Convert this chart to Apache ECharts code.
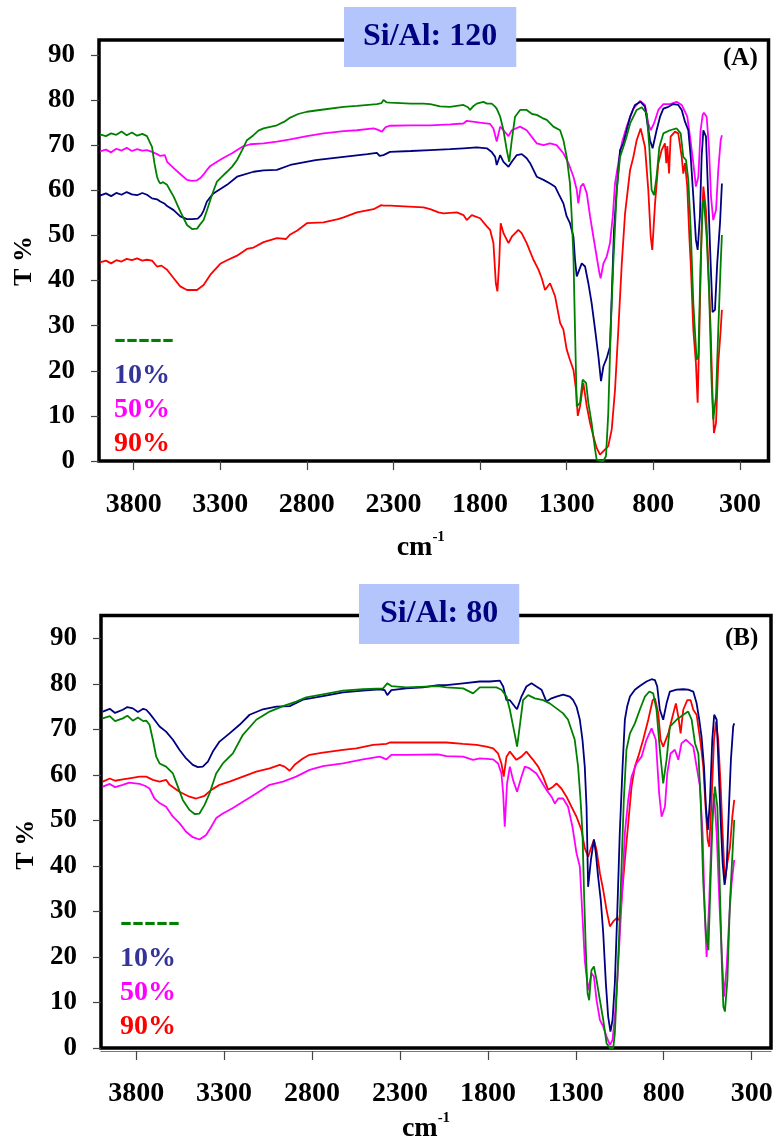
<!DOCTYPE html>
<html>
<head>
<meta charset="utf-8">
<script src="https://cdn.jsdelivr.net/npm/echarts@6/dist/echarts.min.js"></script>
<style>
html,body{margin:0;padding:0;background:#fff;}
#chart{width:774px;height:1140px;}
</style>
</head>
<body>
<div id="chart"></div>
<script>
// ---------- data (wavenumber cm-1, T %) ----------
const xTickValues = [300, 800, 1300, 1800, 2300, 2800, 3300, 3800];
const yTickValues = [0, 10, 20, 30, 40, 50, 60, 70, 80, 90];
const seriesNames = ['-----', '10%', '50%', '90%'];
const panelTitles = ['Si/Al: 120', 'Si/Al: 80'];
const panelTags = ['(A)', '(B)'];

// Panel A (Si/Al 120)
const A_parent = [[3995,72.4],[3960,72.0],[3930,72.6],[3900,72.3],[3870,73.0],[3840,72.2],[3810,72.8],[3780,72.1],[3750,72.5],[3723,72.0],[3705,70.5],[3694,69.6],[3680,66.0],[3665,63.0],[3655,62.0],[3646,61.5],[3630,61.8],[3607,61.2],[3590,60.0],[3569,58.6],[3531,55.3],[3492,52.3],[3463,51.4],[3434,51.5],[3415,52.5],[3396,53.4],[3377,55.5],[3357,57.9],[3338,60.0],[3319,61.9],[3290,63.0],[3261,64.1],[3230,65.3],[3203,66.7],[3175,68.8],[3146,71.1],[3108,72.2],[3080,73.2],[3050,73.7],[2973,74.4],[2930,75.2],[2896,76.1],[2850,76.9],[2800,77.4],[2704,77.9],[2588,78.5],[2511,78.7],[2396,79.1],[2370,79.3],[2358,80.0],[2340,79.5],[2319,79.4],[2200,79.2],[2127,79.2],[2088,79.1],[2031,78.6],[1973,78.5],[1915,78.8],[1896,78.9],[1870,78.4],[1858,77.8],[1840,78.6],[1819,79.2],[1781,79.6],[1760,79.2],[1733,79.2],[1715,78.6],[1704,78.1],[1684,76.3],[1665,73.3],[1646,68.9],[1632,66.3],[1617,71.1],[1598,76.3],[1569,77.8],[1531,77.8],[1500,76.9],[1473,76.7],[1440,76.0],[1415,75.6],[1377,74.1],[1338,73.3],[1319,71.1],[1300,67.4],[1281,61.5],[1271,54.2],[1261,45.3],[1252,29.1],[1242,12.1],[1233,11.8],[1223,12.9],[1208,18.0],[1200,18.2],[1188,17.3],[1175,12.9],[1156,8.4],[1136,2.5],[1127,0.3],[1100,0],[1088,0],[1073,1.1],[1060,10.6],[1046,29.1],[1031,43.8],[1011,60.1],[992,67.4],[973,69.6],[954,71.9],[934,74.8],[896,77.8],[867,78.4],[838,77.0],[823,69.6],[810,60.1],[796,58.9],[781,63.0],[765,69.6],[742,72.6],[704,73.3],[665,73.7],[642,72.6],[627,67.4],[611,66.7],[598,62.3],[584,51.2],[569,35.0],[550,22.4],[540,23.2],[527,43.8],[515,57.1],[508,57.9],[492,49.7],[477,36.5],[464,18.0],[454,9.2],[438,14.3],[425,29.1],[411,43.8],[404,50.1]];
const A_10 = [[3995,58.8],[3960,59.3],[3930,58.7],[3900,59.4],[3870,59.0],[3840,59.6],[3810,59.1],[3780,58.9],[3750,59.4],[3723,59.0],[3694,58.2],[3665,58.0],[3646,57.5],[3620,57.0],[3607,56.5],[3569,55.6],[3531,54.2],[3492,53.6],[3463,53.6],[3430,53.7],[3410,54.5],[3396,55.5],[3377,57.5],[3340,59.3],[3290,60.5],[3261,61.2],[3203,63.0],[3108,64.1],[3050,64.4],[2973,64.5],[2896,65.6],[2750,66.7],[2588,67.4],[2450,68.0],[2396,68.3],[2380,67.6],[2358,67.8],[2320,68.5],[2200,68.7],[2088,68.9],[1973,69.1],[1896,69.3],[1819,69.5],[1761,69.3],[1733,68.5],[1713,67.4],[1704,65.6],[1684,67.8],[1665,66.3],[1636,65.2],[1617,66.3],[1588,67.8],[1559,68.0],[1531,67.1],[1511,66.0],[1473,63.0],[1434,62.3],[1396,61.5],[1367,60.8],[1348,59.3],[1319,57.1],[1300,54.2],[1281,52.7],[1261,49.7],[1252,44.6],[1242,40.9],[1233,40.5],[1213,43.8],[1208,44.2],[1194,43.1],[1175,39.4],[1156,35.0],[1136,29.1],[1117,23.2],[1102,17.7],[1088,21.0],[1069,22.8],[1050,25.4],[1040,36.5],[1027,51.2],[1011,60.1],[992,68.9],[973,70.4],[954,73.3],[934,76.3],[906,78.9],[873,79.6],[848,78.5],[834,74.8],[819,71.1],[804,69.3],[781,73.3],[761,76.3],[742,78.1],[713,78.5],[684,79.1],[656,78.9],[636,77.8],[617,75.2],[598,73.3],[584,67.4],[569,58.6],[554,49.0],[544,46.8],[531,54.2],[521,67.4],[511,73.3],[496,71.9],[483,58.6],[469,43.8],[458,33.0],[444,33.5],[431,43.8],[415,52.7],[404,61.5]];
const A_50 = [[3995,68.6],[3960,69.0],[3930,68.4],[3900,69.2],[3870,68.8],[3840,69.4],[3810,68.7],[3780,69.1],[3750,68.8],[3723,68.9],[3694,68.5],[3665,68.0],[3646,67.6],[3620,67.8],[3607,66.3],[3569,64.9],[3531,63.6],[3492,62.3],[3463,62.1],[3434,62.2],[3415,62.7],[3396,63.5],[3377,64.5],[3357,65.4],[3319,66.3],[3280,67.2],[3232,68.2],[3175,69.6],[3127,70.2],[3050,70.4],[2973,70.8],[2896,71.3],[2800,72.0],[2704,72.6],[2588,73.1],[2511,73.3],[2415,73.7],[2396,73.5],[2367,73.0],[2345,74.0],[2319,74.3],[2200,74.4],[2088,74.4],[1973,74.6],[1896,74.8],[1877,75.4],[1800,75.0],[1742,74.7],[1723,73.7],[1704,70.8],[1684,74.1],[1665,73.3],[1636,72.0],[1617,73.3],[1569,74.1],[1531,73.3],[1473,70.4],[1434,70.0],[1396,70.4],[1358,70.0],[1319,68.2],[1290,66.0],[1261,63.0],[1242,60.1],[1233,57.1],[1219,60.8],[1204,61.5],[1184,59.3],[1165,54.2],[1146,49.7],[1127,45.3],[1111,41.6],[1104,40.5],[1088,43.8],[1069,45.3],[1050,48.3],[1034,54.2],[1021,61.5],[1002,66.0],[982,70.4],[954,74.1],[915,78.1],[877,79.8],[848,78.9],[829,74.8],[815,73.3],[796,74.8],[771,77.8],[742,79.1],[704,79.1],[665,79.6],[636,78.9],[617,77.4],[604,76.3],[588,71.9],[569,66.0],[554,60.8],[540,63.0],[527,73.3],[515,76.7],[508,77.2],[492,76.3],[479,69.6],[467,58.6],[454,53.4],[438,55.6],[425,64.5],[411,71.1],[404,72.2]];
const A_90 = [[3995,44.0],[3960,44.4],[3930,43.8],[3900,44.5],[3870,44.2],[3840,44.8],[3810,44.5],[3780,44.9],[3750,44.4],[3723,44.6],[3694,44.4],[3665,43.1],[3640,43.3],[3607,42.4],[3569,40.5],[3531,38.7],[3492,37.9],[3463,37.9],[3434,37.9],[3396,39.0],[3357,41.3],[3300,43.7],[3261,44.5],[3203,45.5],[3146,47.0],[3108,47.3],[3050,48.5],[2973,49.4],[2920,49.2],[2896,50.2],[2855,51.1],[2800,52.7],[2704,52.9],[2620,53.6],[2588,54.0],[2511,55.1],[2415,55.8],[2370,56.7],[2358,56.6],[2319,56.6],[2127,56.2],[2088,55.8],[2040,55.1],[2011,54.9],[1934,55.1],[1896,54.5],[1877,53.4],[1848,54.5],[1800,53.8],[1761,52.0],[1742,51.2],[1723,48.3],[1709,39.4],[1700,37.6],[1690,43.8],[1681,52.7],[1665,50.5],[1636,48.3],[1617,49.7],[1579,51.2],[1560,50.5],[1531,48.3],[1492,44.6],[1463,42.4],[1444,40.5],[1425,37.9],[1396,39.4],[1367,36.5],[1338,30.6],[1319,29.1],[1300,24.7],[1281,22.4],[1261,20.2],[1246,15.8],[1236,10.0],[1223,12.1],[1204,17.3],[1184,12.1],[1165,8.4],[1146,5.5],[1127,2.9],[1108,1.4],[1088,2.2],[1060,3.3],[1040,7.0],[1021,15.8],[1002,29.1],[982,43.8],[963,54.9],[934,64.5],[915,67.4],[896,71.1],[873,73.7],[848,69.6],[829,60.1],[815,49.7],[806,46.8],[790,57.1],[771,66.0],[752,68.9],[733,70.4],[725,66.0],[719,69.8],[709,63.7],[700,71.9],[675,73.0],[656,72.6],[636,67.4],[627,63.7],[617,66.0],[604,60.8],[592,49.7],[584,43.8],[569,29.1],[554,21.7],[544,12.9],[534,29.1],[521,51.2],[511,60.8],[496,55.6],[483,43.8],[469,29.1],[458,14.3],[450,6.2],[438,8.4],[425,21.7],[411,29.1],[404,33.5]];

// Panel B (Si/Al 80)
const B_parent = [[3990,72.4],[3950,72.9],[3920,71.8],[3876,72.4],[3850,73.0],[3819,71.9],[3790,72.6],[3760,71.8],[3743,71.9],[3724,71.0],[3705,67.7],[3686,64.0],[3667,62.5],[3630,61.8],[3591,60.3],[3563,57.4],[3535,54.5],[3497,52.3],[3468,51.4],[3440,51.5],[3411,53.4],[3383,55.9],[3345,60.3],[3307,62.5],[3250,64.7],[3193,68.8],[3117,72.1],[3041,73.9],[2965,75.1],[2890,76.1],[2833,77.0],[2738,77.7],[2624,78.5],[2510,78.8],[2396,79.0],[2372,80.1],[2349,79.5],[2264,79.2],[2083,79.5],[2036,79.2],[1941,79.0],[1884,77.9],[1846,79.2],[1751,79.2],[1723,78.7],[1694,77.2],[1675,74.3],[1656,70.6],[1641,67.7],[1634,66.2],[1619,70.6],[1600,76.4],[1571,77.5],[1533,76.8],[1486,76.4],[1448,75.7],[1410,74.6],[1372,73.5],[1344,72.1],[1325,69.9],[1306,67.7],[1287,61.8],[1273,54.5],[1262,47.2],[1252,32.5],[1243,21.5],[1233,12.0],[1224,10.5],[1211,17.1],[1197,17.9],[1182,14.9],[1163,10.5],[1144,6.2],[1125,1.0],[1106,0],[1087,0],[1078,3.2],[1065,14.2],[1053,25.2],[1040,39.8],[1027,54.5],[1012,65.5],[992,69.1],[964,71.3],[936,74.3],[907,77.2],[882,78.3],[860,77.9],[841,74.3],[822,65.5],[803,58.1],[784,63.3],[765,70.6],[727,72.1],[689,73.2],[661,73.9],[641,72.1],[622,66.9],[603,64.7],[590,54.5],[575,36.2],[560,25.2],[546,21.5],[537,32.5],[522,50.8],[509,57.4],[495,53.0],[484,39.8],[469,17.9],[461,9.1],[452,8.0],[438,14.9],[423,32.5],[408,43.5],[399,50.1]];
const B_10 = [[3990,73.9],[3950,74.5],[3920,73.6],[3876,74.3],[3850,74.9],[3819,74.6],[3790,73.8],[3760,74.5],[3743,74.3],[3724,73.5],[3696,72.1],[3667,70.6],[3630,69.5],[3591,67.7],[3554,65.5],[3516,63.6],[3478,62.2],[3449,61.7],[3421,61.8],[3392,62.9],[3364,65.1],[3326,67.3],[3269,69.1],[3212,71.0],[3155,73.2],[3079,74.4],[3003,75.0],[2927,75.1],[2852,76.5],[2738,77.3],[2624,78.1],[2510,78.5],[2415,78.8],[2387,78.6],[2372,77.5],[2349,78.6],[2264,79.0],[2169,79.2],[2083,79.7],[2036,79.7],[1941,80.1],[1846,80.5],[1789,80.5],[1732,80.7],[1713,79.4],[1694,76.4],[1675,76.4],[1647,75.0],[1634,74.4],[1609,77.2],[1581,79.4],[1552,80.1],[1524,79.4],[1495,78.7],[1467,76.1],[1438,76.8],[1410,77.2],[1372,77.6],[1334,77.2],[1315,76.4],[1296,75.0],[1277,72.1],[1262,67.7],[1249,61.8],[1239,53.0],[1230,35.4],[1224,35.1],[1214,41.3],[1197,45.8],[1186,42.8],[1173,37.6],[1158,32.5],[1144,25.2],[1129,14.2],[1116,6.9],[1103,3.6],[1091,6.2],[1078,14.2],[1065,28.8],[1050,47.2],[1034,61.8],[1021,72.1],[1008,75.0],[992,77.2],[964,78.7],[936,79.5],[898,80.5],[869,81.0],[850,80.8],[837,79.4],[822,74.3],[803,72.1],[784,75.7],[765,78.3],[727,78.7],[689,78.8],[661,78.7],[632,78.3],[613,75.7],[598,72.1],[585,68.4],[571,61.8],[560,53.0],[549,47.9],[537,54.5],[524,67.7],[513,73.2],[499,72.1],[488,61.8],[477,50.8],[465,40.6],[454,35.8],[442,39.8],[429,53.0],[418,63.3],[405,70.6],[399,71.3]];
const B_50 = [[3990,57.4],[3950,58.0],[3920,57.3],[3876,57.8],[3840,58.3],[3781,58.0],[3750,57.6],[3724,57.0],[3696,54.8],[3667,53.8],[3630,53.0],[3591,50.8],[3554,49.4],[3516,47.5],[3478,46.3],[3440,45.8],[3402,46.8],[3373,48.6],[3345,50.5],[3307,51.5],[3250,52.7],[3193,54.1],[3117,55.9],[3041,57.8],[2965,58.5],[2890,59.6],[2814,61.1],[2738,61.9],[2624,62.5],[2510,63.4],[2415,64.0],[2377,63.4],[2349,64.4],[2264,64.4],[2083,64.5],[2036,64.1],[1941,64.0],[1884,63.3],[1846,63.6],[1770,63.4],[1742,62.5],[1723,60.3],[1713,55.9],[1704,48.6],[1691,58.1],[1675,61.8],[1657,58.9],[1634,56.3],[1609,59.6],[1590,61.8],[1562,61.4],[1524,60.3],[1495,58.5],[1467,56.7],[1438,55.2],[1419,53.7],[1400,54.8],[1372,54.8],[1344,53.0],[1319,48.6],[1296,42.8],[1277,39.8],[1262,28.9],[1249,19.3],[1230,12.7],[1211,16.4],[1197,15.7],[1182,10.5],[1163,6.2],[1144,4.7],[1125,2.5],[1106,0.7],[1091,1.8],[1078,6.9],[1065,14.2],[1049,25.2],[1034,36.2],[1021,47.2],[1002,54.5],[983,59.6],[955,62.5],[926,64.0],[898,67.7],[869,70.2],[845,67.7],[826,55.9],[812,50.8],[793,53.0],[780,60.3],[761,64.7],[737,65.5],[717,63.3],[699,66.9],[674,67.7],[651,66.9],[632,66.2],[613,61.8],[594,57.4],[579,47.2],[566,28.9],[556,20.0],[541,32.5],[528,47.2],[514,55.9],[499,47.2],[484,32.5],[471,21.5],[457,11.3],[442,17.9],[427,28.9],[414,36.2],[399,41.3]];
const B_90 = [[3990,58.5],[3950,59.2],[3920,58.7],[3876,59.0],[3830,59.3],[3781,59.6],[3743,59.6],[3705,58.9],[3667,58.5],[3630,58.9],[3610,57.8],[3554,56.3],[3497,55.2],[3459,54.8],[3411,55.4],[3373,56.7],[3326,57.8],[3269,58.5],[3193,59.6],[3117,60.7],[3041,61.4],[2984,62.2],[2956,61.8],[2927,60.9],[2899,62.2],[2852,63.6],[2814,64.4],[2738,64.9],[2624,65.5],[2548,65.8],[2453,66.6],[2377,66.8],[2358,67.1],[2264,67.1],[2083,67.1],[2036,67.1],[1941,66.8],[1865,66.6],[1808,66.2],[1770,65.8],[1742,64.7],[1723,62.5],[1710,59.6],[1694,64.0],[1675,65.1],[1638,63.3],[1609,64.0],[1581,65.1],[1543,63.3],[1514,61.8],[1486,59.6],[1457,56.7],[1429,57.4],[1410,58.1],[1382,57.0],[1353,55.2],[1325,53.0],[1296,50.8],[1268,47.9],[1249,43.9],[1230,42.0],[1211,44.2],[1197,45.7],[1182,43.5],[1163,38.4],[1144,34.7],[1125,30.3],[1106,26.7],[1087,27.8],[1068,28.5],[1053,28.1],[1040,32.5],[1021,41.3],[1002,49.3],[983,57.4],[964,61.8],[945,64.0],[917,67.7],[888,72.1],[863,76.4],[850,76.8],[831,73.5],[818,67.7],[803,66.2],[774,69.1],[750,72.8],[731,75.7],[717,72.8],[704,69.1],[689,74.3],[666,76.4],[647,76.4],[632,74.3],[613,73.2],[590,66.9],[575,61.8],[562,53.0],[550,45.7],[541,44.2],[528,54.5],[514,67.7],[503,71.7],[490,67.7],[477,58.1],[465,47.2],[452,36.2],[442,39.8],[423,44.2],[410,50.8],[399,54.5]];

// ---------- styling ----------
const FONT = 'Liberation Serif';
const colors = {'-----': '#008000', '10%': '#000080', '50%': '#ff00ff', '90%': '#ff0000'};
const legendColors = {'-----': '#008000', '10%': '#333399', '50%': '#ff00ff', '90%': '#ff0000'};

const panels = [
  {grid: {left: 99, top: 40, width: 669.5, height: 421}, xmin: 135, ymax: 93.3,
   data: {'-----': A_parent, '10%': A_10, '50%': A_50, '90%': A_90},
   xOffset: 0, xAxisLine: false, labelMargin: 30, nameGap: 69, namePad: 26, yNamePad: 21,
   title: {left: 344, top: 7, padding: [13, 19]}, tag: {left: 723, top: 46},
   legendTop: 322, legendLeft: 109},
  {grid: {left: 101, top: 615.5, width: 670, height: 432.5}, xmin: 190, ymax: 95,
   data: {'-----': B_parent, '10%': B_10, '50%': B_50, '90%': B_90},
   xOffset: 3, xAxisLine: true, labelMargin: 29, nameGap: 60, namePad: 20, yNamePad: 26,
   title: {left: 359, top: 584, padding: [13, 21]}, tag: {left: 725, top: 626},
   legendTop: 905, legendLeft: 115}
];

const grids = [], xAxes = [], yAxes = [], series = [], titles = [], legends = [];
panels.forEach((p, i) => {
  grids.push(Object.assign({show: true, borderColor: '#000', borderWidth: 3.5, backgroundColor: 'transparent',
    containLabel: false, outerBoundsMode: 'none'}, p.grid));
  xAxes.push({
    gridIndex: i, type: 'value', inverse: true, min: p.xmin, max: 4000,
    offset: p.xOffset,
    axisLine: {show: p.xAxisLine, onZero: false, lineStyle: {color: '#777', width: 1.2}},
    axisTick: {show: true, length: 9, customValues: xTickValues, lineStyle: {color: '#444', width: 1.2}},
    axisLabel: {customValues: xTickValues, margin: p.labelMargin, fontFamily: FONT, fontWeight: 'bold', fontSize: 28, color: '#000',
      formatter: v => String(v)},
    splitLine: {show: false},
    name: '{a|cm}{b|-1}', nameLocation: 'middle', nameGap: p.nameGap,
    nameTextStyle: {padding: [0, p.namePad, 0, 0],
      rich: {a: {fontFamily: FONT, fontWeight: 'bold', fontSize: 28, color: '#000', lineHeight: 32, verticalAlign: 'bottom'},
             b: {fontFamily: FONT, fontWeight: 'bold', fontSize: 15, color: '#000', lineHeight: 15, verticalAlign: 'top'}}}
  });
  yAxes.push({
    gridIndex: i, type: 'value', min: 0, max: p.ymax,
    axisLine: {show: false},
    axisTick: {show: true, length: 8, customValues: yTickValues, lineStyle: {color: '#444', width: 1.2}},
    axisLabel: {customValues: yTickValues, margin: 24, fontFamily: FONT, fontWeight: 'bold', fontSize: 27, color: '#000',
      formatter: v => String(v)},
    splitLine: {show: false},
    name: 'T %', nameLocation: 'middle', nameGap: 62,
    nameTextStyle: {fontFamily: FONT, fontWeight: 'bold', fontSize: 26, color: '#000', padding: [0, p.yNamePad, 0, 0]}
  });
  ['90%', '50%', '10%', '-----'].forEach(n => {
    series.push({
      name: n, type: 'line', xAxisIndex: i, yAxisIndex: i,
      data: p.data[n], showSymbol: false, symbol: 'none',
      lineStyle: {color: colors[n], width: 1.8}, itemStyle: {color: colors[n]},
      z: 3, animation: false
    });
  });
  titles.push({text: panelTitles[i], left: p.title.left, top: p.title.top, padding: p.title.padding,
    backgroundColor: '#b3c5fb', z: 10,
    textStyle: {fontFamily: FONT, fontWeight: 'bold', fontSize: 32, color: '#000080', lineHeight: 34}});
  titles.push({text: panelTags[i], left: p.tag.left, top: p.tag.top, padding: 0,
    textStyle: {fontFamily: FONT, fontWeight: 'bold', fontSize: 25, color: '#000', lineHeight: 26}});
  legends.push({
    orient: 'vertical', left: p.legendLeft, top: p.legendTop, itemWidth: 0, itemHeight: 34, itemGap: 0.4,
    icon: 'none', selectedMode: false, padding: 0,
    data: seriesNames.map(n => ({name: n, icon: 'none',
      textStyle: {color: legendColors[n], fontFamily: FONT, fontWeight: 'bold', fontSize: n === '-----' ? 36 : 28, lineHeight: 34}}))
  });
});

const chart = echarts.init(document.getElementById('chart'), null, {renderer: 'canvas'});
chart.setOption({
  animation: false,
  backgroundColor: '#fff',
  title: titles,
  legend: legends,
  grid: grids,
  xAxis: xAxes,
  yAxis: yAxes,
  series: series
});
</script>
</body>
</html>
